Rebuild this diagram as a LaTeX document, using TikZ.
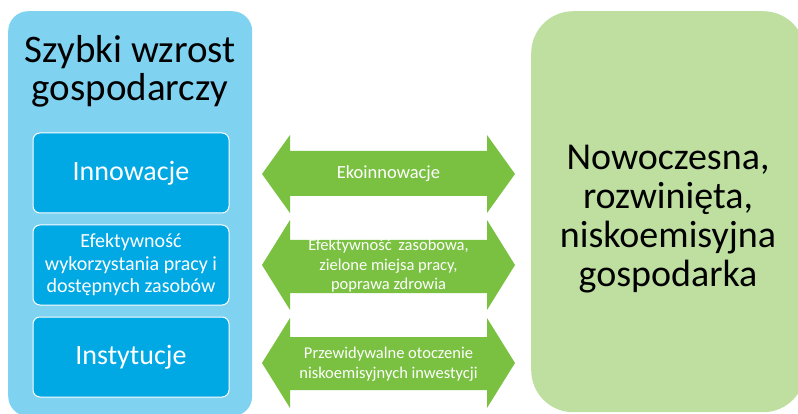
\documentclass[tikz,border=0pt]{standalone}
\usepackage{fontspec}
\setmainfont{Carlito}
\definecolor{outerblue}{RGB}{127,210,240}
\definecolor{innerblue}{RGB}{0,168,228}
\definecolor{arrowgreen}{RGB}{122,193,66}
\definecolor{lightgreen}{RGB}{190,223,160}
\tikzset{
  outerbox/.style={fill=outerblue, rounded corners=20pt, inner sep=0pt},
  innerbox/.style={fill=innerblue, draw=white, line width=1pt, rounded corners=7pt,
    minimum width=196pt, minimum height=80pt, inner sep=0pt, text=white, align=center},
  greenbox/.style={fill=lightgreen, rounded corners=42pt, inner sep=0pt},
  arrowshape/.style={fill=arrowgreen},
  arrowtext/.style={text=white, align=center, inner sep=0pt},
  bigtext/.style={align=center, inner sep=0pt, text=black}
}
\begin{document}
\begin{tikzpicture}[x=1pt,y=-1pt]
\useasboundingbox (0,0) rectangle (798,414);
\clip (0,0) rectangle (798,414);
% left big box
\node[outerbox, minimum width=244pt, minimum height=405pt, anchor=north west] (growth) at (8,11) {};
\node[bigtext, font=\fontsize{39}{38}\selectfont] (growthtitle) at (130,71) {Szybki wzrost\\gospodarczy};
% inner boxes
\node[innerbox, font=\fontsize{28}{30}\selectfont] (innov) at (131,173) {Innowacje};
\node[innerbox, font=\fontsize{20}{22.5}\selectfont] (effic) at (131,265) {Efektywność\\wykorzystania pracy i\\dostępnych zasobów};
\node[innerbox, font=\fontsize{28}{30}\selectfont] (inst) at (131,357) {Instytucje};
% right box
\node[greenbox, minimum width=274pt, minimum height=401pt, anchor=north west] (economy) at (531,11) {};
\node[bigtext, font=\fontsize{38}{39}\selectfont] (economytext) at (668,219) {Nowoczesna,\\rozwinięta,\\niskoemisyjna\\gospodarka};
% arrows
\fill[arrowshape] (262,174) -- (290,135) -- (290,151) -- (487,151) -- (487,135) -- (515,174)
  -- (487,213) -- (487,196) -- (290,196) -- (290,213) -- cycle;
\node[arrowtext, font=\fontsize{18.5}{20}\selectfont] (eco) at (388.5,174) {Ekoinnowacje};
\fill[arrowshape] (262,265) -- (290,220) -- (290,240) -- (487,240) -- (487,220) -- (515,265)
  -- (487,310) -- (487,293) -- (290,293) -- (290,310) -- cycle;
\node[arrowtext, font=\fontsize{16.5}{19.5}\selectfont] (res) at (388.5,266) {Efektywność\hspace{3pt} zasobowa,\\zielone miejsa pracy,\\poprawa zdrowia};
\fill[arrowshape] (262,363) -- (290,318) -- (290,337) -- (487,337) -- (487,318) -- (515,363)
  -- (487,408) -- (487,390) -- (290,390) -- (290,408) -- cycle;
\node[arrowtext, font=\fontsize{16.5}{19.5}\selectfont] (inv) at (388.5,364) {Przewidywalne otoczenie\\niskoemisyjnych inwestycji};
\end{tikzpicture}
\end{document}
